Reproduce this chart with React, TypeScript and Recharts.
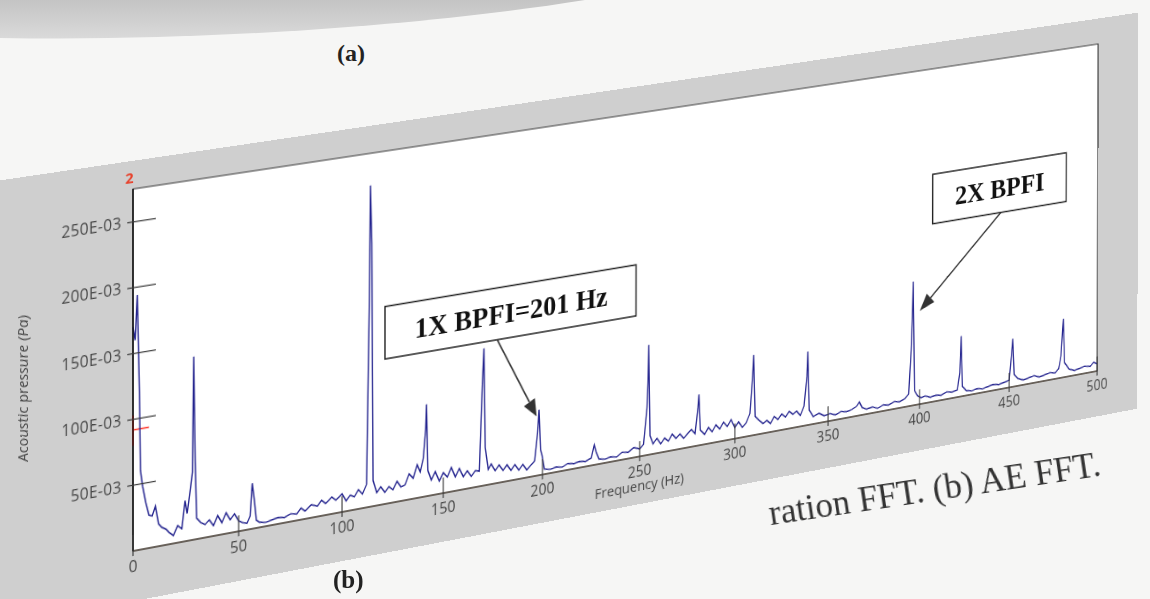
import React from "react";
import { ComposedChart, Line, XAxis, YAxis, CartesianGrid, ReferenceArea, ReferenceLine } from "recharts";

// AE spectrum (Hz, Pa)
const freqHz = [
  0, 1, 2, 3, 3.5, 4.5, 6, 7.5, 9, 10.5, 12, 13.5, 15.5, 17, 19, 21, 23, 24.5, 25.5, 27, 28, 28.6, 29.3, 30,
  32, 34, 36, 38, 40, 42, 44, 46, 48, 50, 52, 54, 55.5, 56.5, 57.5, 58.5, 60, 63, 66, 69, 72, 75, 78, 80, 82,
  85, 88, 90, 92, 95, 97, 100, 102, 104, 106, 108, 110, 112, 113.3, 113.8, 114.5, 115.2, 117, 119, 121, 123,
  125, 127, 129, 131, 133, 135, 137, 138.5, 140, 141.2, 141.6, 142.3, 144, 146, 148, 150, 152, 154, 156, 158,
  160, 162, 164, 166, 168, 169.5, 170.3, 171, 172.5, 174, 176, 178, 180, 182, 184, 186, 188, 190, 192, 194,
  196, 197.5, 198.2, 199, 199.8, 201, 204, 207, 210, 213, 216, 219, 222, 225, 226.5, 227.5, 229, 232, 235,
  238, 241, 244, 247, 250, 252, 253.8, 254.3, 254.7, 255.4, 257, 259, 261, 263, 265, 267, 269, 271, 273, 275,
  277, 279, 280.5, 281, 281.8, 284, 286, 288, 290, 292, 294, 296, 298, 300, 302, 304, 306, 308, 309.4, 310,
  310.8, 313, 315, 317, 319, 321, 323, 325, 327, 329, 331, 333, 335, 337, 338.5, 339, 339.8, 342, 345, 348,
  351, 354, 357, 360, 363, 365.5, 367, 368.5, 371, 374, 377, 380, 383, 386, 389, 392, 394, 395.3, 395.8,
  396.4, 397.2, 399, 401, 403, 406, 409, 412, 415, 418, 421, 422.3, 423, 423.8, 426, 429, 432, 435, 438, 441,
  444, 447, 450, 451.3, 452, 452.8, 455, 458, 461, 464, 467, 470, 473, 476, 478, 479.3, 480, 480.6, 481.4,
  484, 487, 490, 493, 496, 498, 500,
];
const pressurePa = [
  0.17, 0.16, 0.194, 0.12, 0.06, 0.048, 0.035, 0.025, 0.024, 0.031, 0.017, 0.014, 0.012, 0.009, 0.006, 0.013,
  0.01, 0.031, 0.021, 0.039, 0.052, 0.14, 0.06, 0.016,
  0.012, 0.01, 0.013, 0.008, 0.015, 0.009, 0.016, 0.01, 0.014, 0.008, 0.006, 0.005, 0.01, 0.035, 0.022, 0.006,
  0.004, 0.003, 0.004, 0.005, 0.004, 0.006, 0.005, 0.009, 0.006,
  0.01, 0.008, 0.012, 0.009, 0.013, 0.01, 0.014, 0.008, 0.012, 0.01, 0.015, 0.011, 0.018, 0.16, 0.25, 0.205,
  0.02, 0.01, 0.014, 0.009, 0.013,
  0.01, 0.016, 0.011, 0.012, 0.02, 0.016, 0.026, 0.02, 0.03, 0.053, 0.072, 0.02, 0.012, 0.018, 0.01, 0.016,
  0.012, 0.019, 0.011, 0.017,
  0.01, 0.014, 0.009, 0.013, 0.012, 0.08, 0.108, 0.03, 0.012, 0.016, 0.01, 0.014, 0.009, 0.013, 0.008, 0.012,
  0.007, 0.011, 0.006, 0.009,
  0.012, 0.034, 0.052, 0.02, 0.015, 0.004, 0.003, 0.004, 0.003, 0.005, 0.004, 0.005, 0.004, 0.006, 0.016,
  0.01, 0.004, 0.003, 0.004,
  0.003, 0.006, 0.005, 0.008, 0.006, 0.009, 0.038, 0.058, 0.088, 0.015, 0.008, 0.012, 0.007, 0.011, 0.008,
  0.013, 0.009, 0.012, 0.008, 0.011,
  0.014, 0.01, 0.031, 0.041, 0.012, 0.008, 0.013, 0.009, 0.014, 0.01, 0.015, 0.011, 0.016, 0.009, 0.013, 0.008,
  0.011, 0.018, 0.048, 0.065,
  0.015, 0.011, 0.008, 0.01, 0.007, 0.012, 0.009, 0.013, 0.01, 0.014, 0.011, 0.013, 0.009, 0.016, 0.04, 0.06,
  0.012, 0.006, 0.008, 0.005,
  0.006, 0.004, 0.006, 0.005, 0.006, 0.008, 0.011, 0.006, 0.004, 0.005, 0.003, 0.005, 0.004, 0.006, 0.005,
  0.007, 0.01, 0.046, 0.069,
  0.102, 0.012, 0.007, 0.005, 0.006, 0.004, 0.005, 0.004, 0.006, 0.005, 0.006, 0.02, 0.05, 0.008, 0.004,
  0.003, 0.004, 0.003, 0.004, 0.005,
  0.004, 0.005, 0.006, 0.028, 0.04, 0.01, 0.006, 0.004, 0.005, 0.006, 0.004, 0.005, 0.006, 0.005, 0.008,
  0.018, 0.035, 0.049, 0.012,
  0.006, 0.004, 0.005, 0.006, 0.005, 0.008, 0.006,
];
const xTicks = [0, 50, 100, 150, 200, 250, 300, 350, 400, 450, 500];
const yTicks = [0.05, 0.1, 0.15, 0.2, 0.25];
const Y_MAX = 0.275;

const labels = ["1X BPFI=201 Hz", "2X BPFI"];
const labelBoxes = [
  [121, 248, 0.113, 0.154],
  [407, 482, 0.147, 0.188],
];
const arrows = [
  [[177, 0.113], [197, 0.047]],
  [[445, 0.147], [400, 0.077]],
];

const spectrum = freqHz.map((f, i) => ({ f, p: pressurePa[i] }));

// chart box (local, before the photo warp)
const L = 150, T = 28, R = 52, B = 50, PW = 1120, PH = 360;
const CW = L + PW + R, CH = T + PH + B;
// where the plot corners sit in the photo: TL, TR, BR, BL
const quad = [[133, 189], [1098, 44], [1097, 371], [133, 551]];

function warp() {
  const [[x0, y0], [x1, y1], [x2, y2], [x3, y3]] = quad;
  const dx1 = x1 - x2, dx2 = x3 - x2, dx3 = x0 - x1 + x2 - x3;
  const dy1 = y1 - y2, dy2 = y3 - y2, dy3 = y0 - y1 + y2 - y3;
  const den = dx1 * dy2 - dx2 * dy1;
  const g = (dx3 * dy2 - dx2 * dy3) / den;
  const h = (dx1 * dy3 - dx3 * dy1) / den;
  const a = x1 - x0 + g * x1, b = x3 - x0 + h * x3, c = x0;
  const d = y1 - y0 + g * y1, e = y3 - y0 + h * y3, f = y0;
  const A = a / PW, Bm = b / PH, C = c - (a * L) / PW - (b * T) / PH;
  const D = d / PW, E = e / PH, F = f - (d * L) / PW - (e * T) / PH;
  const G = g / PW, H = h / PH, W = 1 - (g * L) / PW - (h * T) / PH;
  const m = [A, D, 0, G, Bm, E, 0, H, 0, 0, 1, 0, C, F, 0, W].map((v) => v / W);
  return `matrix3d(${m.join(",")})`;
}

const fmtY = (v: number) => `${Math.round(v * 1000)}E-03`;
const tickFont = "'Open Sans', sans-serif";
const serif = "'Liberation Serif', 'Times New Roman', serif";

const YTick = (props: any) => {
  const { x, y, payload } = props;
  const ax = x + 12;
  return (
    <g>
      <line x1={ax - 6} x2={ax + 24} y1={y} y2={y} stroke="#3c3c3c" strokeWidth={1.2} />
      <text x={x} y={y} dy={5} textAnchor="end" fontSize={16} fill="#474747" fontFamily={tickFont} letterSpacing={0.4}>
        {fmtY(payload.value)}
      </text>
    </g>
  );
};

const XTick = (props: any) => {
  const { x, y, payload } = props;
  const ay = y - 8;
  return (
    <g>
      <line x1={x} x2={x} y1={ay - 16} y2={ay + 5} stroke="#3c3c3c" strokeWidth={1.2} />
      <text x={x} y={ay + 21} textAnchor="middle" fontSize={16} fill="#474747" fontFamily={tickFont}>
        {payload.value}
      </text>
    </g>
  );
};

const Arrow = (props: any) => {
  const { x1, y1, x2, y2 } = props;
  const len = Math.hypot(x2 - x1, y2 - y1);
  const ux = (x2 - x1) / len, uy = (y2 - y1) / len;
  const bx = x2 - ux * 18, by = y2 - uy * 18;
  const pts = `${x2},${y2} ${bx - uy * 7},${by + ux * 7} ${bx + uy * 7},${by - ux * 7}`;
  return (
    <g>
      <line x1={x1} y1={y1} x2={bx} y2={by} stroke="#333" strokeWidth={1.6} />
      <polygon points={pts} fill="#333" />
    </g>
  );
};

export default function App() {
  return (
    <div style={{ position: "absolute", left: 0, top: 0, width: 1150, height: 599, overflow: "hidden", background: "#f6f6f5" }}>
      {/* bottom of panel (a) */}
      <svg width={1150} height={80} style={{ position: "absolute", left: 0, top: 0 }}>
        <defs>
          <linearGradient id="ga" x1="0" y1="0" x2="0" y2="1">
            <stop offset="0" stopColor="#c4c4c4" />
            <stop offset="1" stopColor="#dadada" />
          </linearGradient>
        </defs>
        <path d="M0,0 L585,0 C430,25 200,42 0,38 Z" fill="url(#ga)" />
      </svg>
      <div style={{ position: "absolute", left: 337, top: 40, fontFamily: serif, fontWeight: "bold", fontSize: 24, color: "#222" }}>(a)</div>

      <div
        style={{
          position: "absolute",
          left: 0,
          top: 0,
          width: CW,
          height: CH,
          background: "#cfcfcf",
          transformOrigin: "0 0",
          transform: warp(),
        }}
      >
        <div style={{ position: "absolute", left: L - 8, top: T - 22, color: "#e8402a", fontFamily: tickFont, fontWeight: "bold", fontSize: 15 }}>2</div>
        <ComposedChart width={CW} height={CH} data={spectrum} margin={{ top: T, right: R, bottom: 0, left: 0 }}>
          <CartesianGrid fill="#fff" horizontal={false} vertical={false} />
          <XAxis
            dataKey="f"
            type="number"
            domain={[0, 500]}
            ticks={xTicks}
            height={B}
            tickSize={6}
            tickMargin={2}
            tickLine={false}
            tick={<XTick />}
            axisLine={{ stroke: "#5b5248", strokeWidth: 1.5 }}
            label={{ value: "Frequency (Hz)", position: "insideBottom", offset: 14, fontSize: 15, fill: "#474747", fontFamily: tickFont }}
          />
          <YAxis
            type="number"
            domain={[0, Y_MAX]}
            ticks={yTicks}
            width={L}
            tickSize={6}
            tickMargin={6}
            tickLine={false}
            tick={<YTick />}
            axisLine={{ stroke: "#111", strokeWidth: 1.5 }}
            label={{
              value: "Acoustic pressure (Pa)",
              angle: -90,
              position: "insideLeft",
              offset: 36,
              fontSize: 15,
              fill: "#474747",
              fontFamily: tickFont,
              fontStyle: "italic",
              style: { textAnchor: "middle" },
            }}
          />
          <ReferenceArea x1={0} x2={500} y1={0} y2={Y_MAX} fill="none" stroke="#3a3a3a" strokeWidth={1.2} />
          <ReferenceLine segment={[{ x: 0, y: 0.08 }, { x: 0, y: 0.103 }]} stroke="#ff3b30" strokeWidth={2} />
          <ReferenceLine segment={[{ x: 0, y: 0.092 }, { x: 7.5, y: 0.092 }]} stroke="#ff3b30" strokeWidth={1.5} />
          <Line dataKey="p" type="linear" stroke="#23238e" strokeWidth={1.4} dot={false} isAnimationActive={false} />
          {labels.map((txt, i) => (
            <ReferenceArea
              key={txt}
              x1={labelBoxes[i][0]}
              x2={labelBoxes[i][1]}
              y1={labelBoxes[i][2]}
              y2={labelBoxes[i][3]}
              fill="#fff"
              fillOpacity={1}
              stroke="#222"
              strokeWidth={1.5}
              label={{ value: txt, position: "center", fontSize: 30, fontWeight: "bold", fill: "#111", fontFamily: serif }}
            />
          ))}
          {arrows.map((a, i) => (
            <ReferenceLine
              key={i}
              segment={[{ x: a[0][0], y: a[0][1] }, { x: a[1][0], y: a[1][1] }]}
              shape={Arrow}
            />
          ))}
        </ComposedChart>
      </div>

      <div style={{ position: "absolute", left: 333, top: 566, fontFamily: serif, fontWeight: "bold", fontSize: 25, color: "#222" }}>(b)</div>
      <div
        style={{
          position: "absolute",
          left: 772,
          top: 494,
          fontFamily: serif,
          fontSize: 35,
          color: "#333",
          whiteSpace: "nowrap",
          transformOrigin: "0 100%",
          transform: "rotate(-8.5deg)",
        }}
      >
        ration FFT. (b) AE FFT.
      </div>
    </div>
  );
}
